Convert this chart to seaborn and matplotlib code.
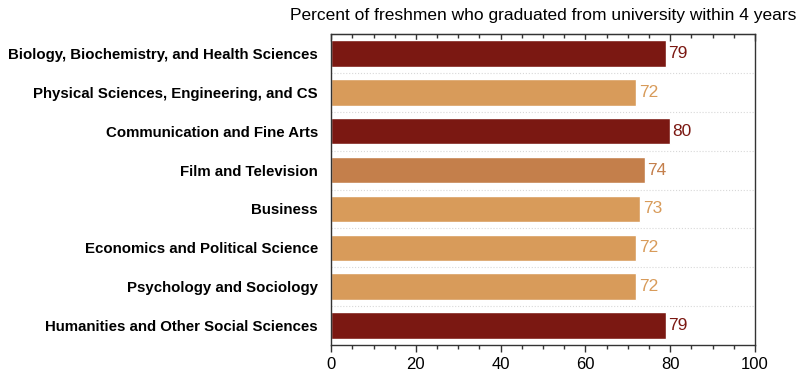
import numpy as np
import pandas as pd
import matplotlib
matplotlib.use("Agg")
import matplotlib.pyplot as plt
from matplotlib.ticker import MultipleLocator
import seaborn as sns

# Data
fields = [
    "Biology, Biochemistry, and Health Sciences",
    "Physical Sciences, Engineering, and CS",
    "Communication and Fine Arts",
    "Film and Television",
    "Business",
    "Economics and Political Science",
    "Psychology and Sociology",
    "Humanities and Other Social Sciences",
]
pct_grad = [79, 72, 80, 74, 73, 72, 72, 79]
bar_colors = ["#7B1812", "#D89B5A", "#7B1812", "#C47F4B",
              "#D89B5A", "#D89B5A", "#D89B5A", "#7B1812"]

df = pd.DataFrame({"field": fields, "pct": pct_grad})

sns.set_style("white")
plt.rcParams["font.family"] = ["Liberation Sans", "DejaVu Sans"]
plt.rcParams["text.color"] = "black"
plt.rcParams["xtick.color"] = "black"
plt.rcParams["ytick.color"] = "black"

fig = plt.figure(figsize=(7.98, 3.75), dpi=100)
ax = fig.add_axes([0.415, 0.08, 0.531, 0.829])

sns.barplot(data=df, y="field", x="pct", hue="field", palette=bar_colors,
            legend=False, width=0.68, ax=ax, saturation=1)

for i, (v, c) in enumerate(zip(pct_grad, bar_colors)):
    ax.text(v + 0.6, i, str(v), va="center", ha="left", color=c, fontsize=12.5)

# dotted separators between categories
for y in np.arange(0.5, len(fields) - 0.5, 1):
    ax.axhline(y, color="#d8d8d8", lw=0.8, ls=":", zorder=0)

ax.set_xlim(0, 100)
ax.set_ylim(len(fields) - 0.5, -0.5)
ax.xaxis.set_major_locator(MultipleLocator(20))
ax.xaxis.set_minor_locator(MultipleLocator(5))
ax.tick_params(axis="x", which="both", bottom=True, top=False, direction="out",
               labelsize=12, length=5, width=1, color="#333333")
ax.tick_params(axis="x", which="minor", length=3)
ax.tick_params(axis="y", left=False, labelsize=10.8, pad=6)
for lab in ax.get_yticklabels():
    lab.set_fontweight("bold")
ax.set_xlabel("")
ax.set_ylabel("")
for s in ax.spines.values():
    s.set_color("#333333")
    s.set_linewidth(1.0)

# inward ticks along the top edge
top = ax.secondary_xaxis("top")
top.xaxis.set_major_locator(MultipleLocator(20))
top.xaxis.set_minor_locator(MultipleLocator(5))
top.tick_params(axis="x", which="both", direction="in", labeltop=False,
                length=5, width=1, color="#333333")
top.tick_params(axis="x", which="minor", length=3)
top.spines["top"].set_color("#333333")

ax.set_title("Percent of freshmen who graduated from university within 4 years",
             fontsize=12.5, pad=10)

fig.savefig("out.png", dpi=100)
